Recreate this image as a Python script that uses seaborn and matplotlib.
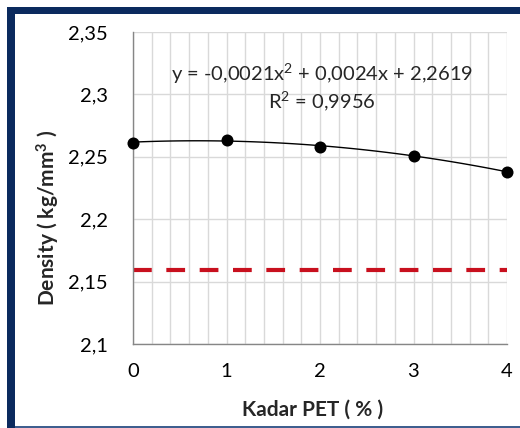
import numpy as np
import pandas as pd
import matplotlib
matplotlib.use("Agg")
import matplotlib.pyplot as plt
import seaborn as sns
from matplotlib.patches import Rectangle

# ---- data ----
kadar_pet = [0, 1, 2, 3, 4]
density = [2.2614, 2.2636, 2.2582, 2.2507, 2.2381]
ref_x = [0, 4]
ref_y = [2.159, 2.159]
y_ticks = [2.1, 2.15, 2.2, 2.25, 2.3, 2.35]
y_tick_labels = ["2,1", "2,15", "2,2", "2,25", "2,3", "2,35"]
x_ticks = [0, 1, 2, 3, 4]
equation = "y = -0,0021x$^{2}$ + 0,0024x + 2,2619"
r2_text = "R$^{2}$ = 0,9956"

sns.set_theme(style="white")
plt.rcParams["font.family"] = ["Lato", "DejaVu Sans"]
plt.rcParams["mathtext.fontset"] = "custom"
plt.rcParams["mathtext.rm"] = "Lato"
plt.rcParams["mathtext.it"] = "Lato:italic"
plt.rcParams["mathtext.bf"] = "Lato:bold"

df = pd.DataFrame({"x": kadar_pet, "y": density})
ref = pd.DataFrame({"x": ref_x, "y": ref_y})

fig = plt.figure(figsize=(5.2, 4.28), dpi=100)
W, H = 520, 428
ax = fig.add_axes([133 / W, 1 - 344 / H, (507 - 133) / W, (344 - 32) / H])

# grid
ax.set_xlim(0, 4)
ax.set_ylim(2.1, 2.35)
ax.set_xticks(x_ticks)
ax.set_xticks(np.arange(0, 4.001, 0.2), minor=True)
ax.set_yticks(y_ticks)
ax.set_yticklabels(y_tick_labels)
ax.grid(True, which="both", axis="x", color="#d9d9d9", lw=1)
ax.grid(True, which="major", axis="y", color="#d9d9d9", lw=1)
ax.set_axisbelow(True)

# reference dashed line
sns.lineplot(data=ref, x="x", y="y", ax=ax, color="#C8101E", lw=3,
             dashes=False, zorder=2)
ax.lines[-1].set_dashes([4.5, 3.5])
ax.lines[-1].set_solid_capstyle("butt")

# trendline (2nd-order polynomial fit)
sns.regplot(data=df, x="x", y="y", order=2, ci=None, scatter=False, ax=ax,
            line_kws=dict(color="black", lw=1, zorder=3))
# points
sns.scatterplot(data=df, x="x", y="y", ax=ax, color="black", s=75,
                edgecolor="black", linewidth=0, zorder=4, clip_on=False)

for s in ["top", "right"]:
    ax.spines[s].set_visible(False)
for s in ["left", "bottom"]:
    ax.spines[s].set_color("#868686")
    ax.spines[s].set_linewidth(1)

ax.tick_params(axis="both", which="major", direction="out", length=6,
               width=1, color="#868686", labelsize=14.5, colors="#868686",
               labelcolor="black")
ax.tick_params(axis="x", which="major", pad=8)
ax.tick_params(axis="y", which="major", pad=12)
ax.tick_params(axis="both", which="minor", length=0)

ax.set_xlabel("Kadar PET ( % )", fontsize=15, fontweight="bold")
ax.set_ylabel("Density ( kg/mm$^{\\mathbf{3}}$ )", fontsize=15, fontweight="bold")
ax.xaxis.set_label_coords((313 - 133) / (507 - 133), -(400 - 344) / (344 - 32))
ax.yaxis.set_label_coords(-(133 - 48) / (507 - 133), (344 - 218) / (344 - 32))
ax.xaxis.label.set_va("top")
ax.yaxis.label.set_va("center")

ax.text(322 / W, 1 - 74 / H, equation, transform=fig.transFigure,
        ha="center", va="center", fontsize=14.5)
ax.text(322 / W, 1 - 101 / H, r2_text, transform=fig.transFigure,
        ha="center", va="center", fontsize=14.5)

# frame
navy = "#0B2A5E"
fig.add_artist(Rectangle((7 / W, 0), 8 / W, 1 - 7 / H, transform=fig.transFigure,
                         color=navy, lw=0))
fig.add_artist(Rectangle((7 / W, 1 - 14 / H), 1 - 7 / W, 7 / H,
                         transform=fig.transFigure, color=navy, lw=0))
fig.add_artist(Rectangle((15 / W, 0.5 / H), 1, 2 / H,
                         transform=fig.transFigure, color="#3F5F8F", lw=0))

fig.savefig("out.png", dpi=100)
